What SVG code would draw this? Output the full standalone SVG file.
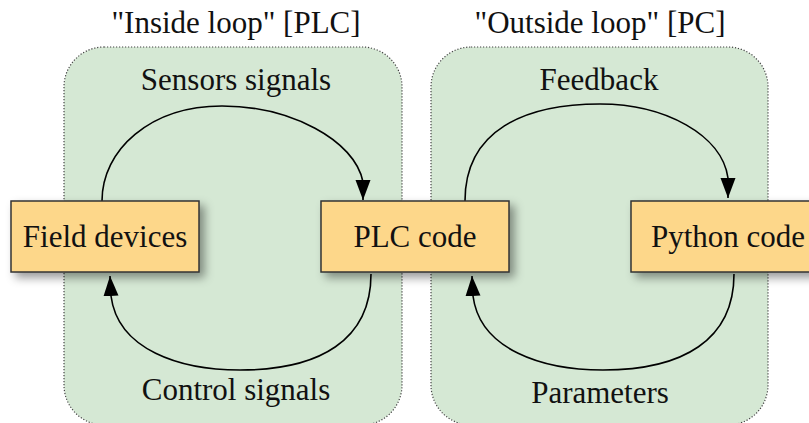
<svg xmlns="http://www.w3.org/2000/svg" width="809" height="423" viewBox="0 0 809 423">
<style>
.cluster{fill:#d5e8d4;stroke:#444;stroke-width:1.2;stroke-dasharray:1.2 1.8;}
.box{fill:#fdd78a;stroke:#333;stroke-width:1.5;}
.t{font-family:"Liberation Serif","Times New Roman",serif;font-size:31px;fill:#111;text-anchor:middle;}
.edge{fill:none;stroke:#000;stroke-width:1.6;}
</style>
<defs>
<filter id="sh" x="-20%" y="-40%" width="150%" height="200%">
<feDropShadow dx="5" dy="5" stdDeviation="5" flood-color="#000" flood-opacity="0.4"/>
</filter>
<marker id="arr" markerUnits="userSpaceOnUse" markerWidth="22" markerHeight="16" refX="20" refY="7.5" orient="auto">
<path d="M0,0 L20,7.5 L0,15 z" fill="#000"/>
</marker>
</defs>
<g id="cluster-inside">
<rect class="cluster" x="64" y="47" width="338" height="378" rx="40" ry="40"/>
<text class="t" x="236" y="33">"Inside loop" [PLC]</text>
</g>
<g id="cluster-outside">
<rect class="cluster" x="431" y="47" width="337" height="378" rx="40" ry="40"/>
<text class="t" x="600" y="33">"Outside loop" [PC]</text>
</g>
<g id="edges">
<path class="edge" marker-end="url(#arr)" d="M102,201 C102,150 150,106 222,106 C290,106 355,140 363,182 L363,200"/>
<path class="edge" marker-end="url(#arr)" d="M371,274 C371,340 320,370 240,370 C180,370 118,350 111,296 L110,276"/>
<path class="edge" marker-end="url(#arr)" d="M465,201 C465,130 525,104 600,104 C665,104 722,135 728,178 L728,198"/>
<path class="edge" marker-end="url(#arr)" d="M734,274 C734,340 683,370 603,370 C543,370 480,350 473,296 L472,276"/>
<text class="t" x="236" y="90">Sensors signals</text>
<text class="t" x="236" y="400">Control signals</text>
<text class="t" x="599" y="90">Feedback</text>
<text class="t" x="600" y="403">Parameters</text>
</g>
<g id="node-field">
<rect class="box" filter="url(#sh)" x="11" y="201" width="188" height="71"/>
<text class="t" x="105" y="247">Field devices</text>
</g>
<g id="node-plc">
<rect class="box" filter="url(#sh)" x="321" y="201" width="188" height="71"/>
<text class="t" x="415" y="247">PLC code</text>
</g>
<g id="node-python">
<rect class="box" filter="url(#sh)" x="631" y="201" width="195" height="71"/>
<text class="t" x="728" y="247">Python code</text>
</g>
</svg>
